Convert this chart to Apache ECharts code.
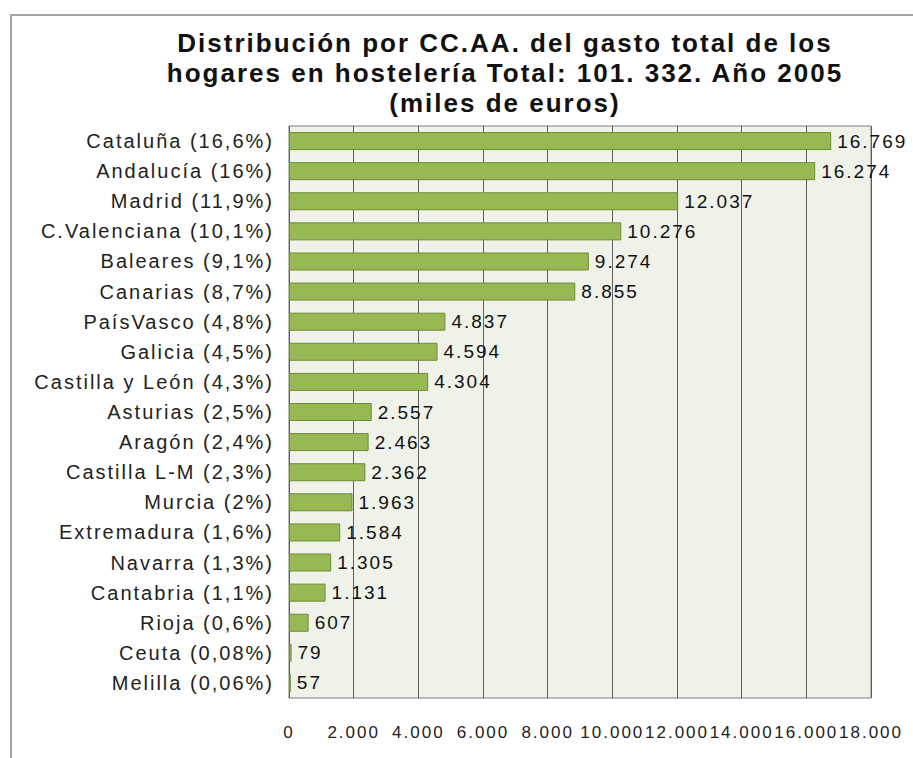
<!DOCTYPE html>
<html>
<head>
<meta charset="utf-8">
<script src="https://cdn.jsdelivr.net/npm/echarts@6.0.0/dist/echarts.min.js"></script>
<style>
  html, body { margin: 0; padding: 0; background: #ffffff; }
  #chart { width: 913px; height: 758px; }
  /* the original chart draws every text with wide letter spacing */
  #chart text { letter-spacing: 2px; }
</style>
</head>
<body>
<div id="chart"></div>
<script>
const regions = [
  'Cataluña (16,6%)', 'Andalucía (16%)', 'Madrid (11,9%)', 'C.Valenciana (10,1%)',
  'Baleares (9,1%)', 'Canarias (8,7%)', 'PaísVasco (4,8%)', 'Galicia (4,5%)',
  'Castilla y León (4,3%)', 'Asturias (2,5%)', 'Aragón (2,4%)', 'Castilla L-M (2,3%)',
  'Murcia (2%)', 'Extremadura (1,6%)', 'Navarra (1,3%)', 'Cantabria (1,1%)',
  'Rioja (0,6%)', 'Ceuta (0,08%)', 'Melilla (0,06%)'
];
const gasto = [
  16769, 16274, 12037, 10276, 9274, 8855, 4837, 4594, 4304, 2557,
  2463, 2362, 1963, 1584, 1305, 1131, 607, 79, 57
];
const axisMax = 18000;
const axisStep = 2000;

const titleText = 'Distribución por CC.AA. del gasto total de los\n' +
  'hogares en hostelería Total: 101. 332. Año 2005\n' +
  '(miles de euros)';

// miles con punto, como en el original
const fmt = (v) => String(v).replace(/\B(?=(\d{3})+(?!\d))/g, '.');

const chart = echarts.init(document.getElementById('chart'), null, { renderer: 'svg' });

const option = {
  backgroundColor: '#ffffff',
  animation: false,
  title: {
    text: titleText,
    left: 500,
    top: 23,
    textAlign: 'center',
    textStyle: {
      fontFamily: 'Liberation Sans, Arial, sans-serif',
      fontSize: 26,
      fontWeight: 'bold',
      lineHeight: 30,
      color: '#111111'
    }
  },
  graphic: [
    {
      type: 'polyline',
      shape: { points: [[913, 15], [11, 15], [11, 758]] },
      style: { stroke: '#a3a3a3', lineWidth: 2, fill: null },
      silent: true
    }
  ],
  grid: {
    left: 289,
    right: 42,
    top: 126,
    bottom: 60,
    show: true,
    backgroundColor: '#eef2e9',
    borderColor: '#7a7a7a',
    borderWidth: 1
  },
  xAxis: {
    type: 'value',
    min: 0,
    max: axisMax,
    interval: axisStep,
    axisLine: { show: false },
    axisTick: { show: false },
    splitLine: { show: true, lineStyle: { color: '#5f5f5f', width: 1 } },
    axisLabel: {
      margin: 26,
      fontFamily: 'Liberation Sans, Arial, sans-serif',
      fontSize: 17,
      color: '#222222',
      formatter: fmt
    }
  },
  yAxis: {
    type: 'category',
    data: regions,
    inverse: true,
    axisLine: { show: false },
    axisTick: { show: false },
    splitLine: { show: false },
    axisLabel: {
      margin: 15,
      fontFamily: 'Liberation Sans, Arial, sans-serif',
      fontSize: 20,
      color: '#222222'
    }
  },
  series: [
    {
      type: 'bar',
      data: gasto,
      barWidth: 18,
      itemStyle: {
        color: '#97b853',
        borderColor: '#6f8c36',
        borderWidth: 1
      },
      label: {
        show: true,
        position: 'right',
        distance: 6,
        fontFamily: 'Liberation Sans, Arial, sans-serif',
        fontSize: 19,
        color: '#111111',
        formatter: (p) => fmt(p.value)
      }
    }
  ]
};

chart.setOption(option);
</script>
</body>
</html>
